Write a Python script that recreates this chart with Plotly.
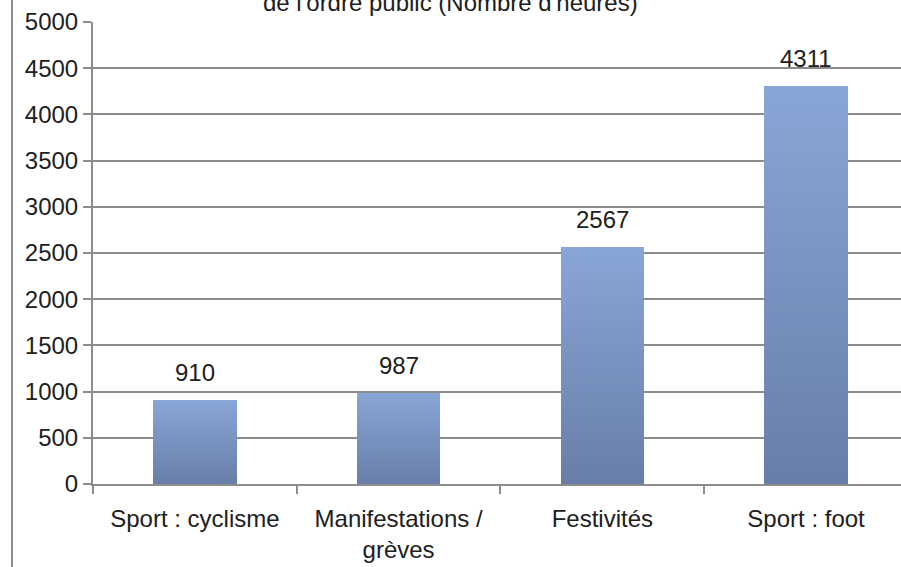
import plotly.graph_objects as go

categories = ["Sport : cyclisme", "Manifestations /<br>grèves", "Festivités", "Sport : foot"]
hours = [910, 987, 2567, 4311]
y_tick_values = list(range(0, 5001, 500))
title_line = "de l'ordre public (Nombre d'heures)"

W, H = 901, 567
ML, MR, MT, MB = 93, 0, 22, 83
FONT = "Liberation Sans, Arial, sans-serif"
TXT = "#202020"

bottom_rgb = (0x68, 0x7E, 0xA8)
top_rgb = (0x88, 0xA6, 0xD6)
N = 60

fig = go.Figure()
for k in range(N):
    t = (k + 0.5) / N
    c = tuple(round(b + (tp - b) * t) for b, tp in zip(bottom_rgb, top_rgb))
    col = "rgb(%d,%d,%d)" % c
    bases = [v * k / N for v in hours]
    tops = [min(v * (k + 1.6) / N, v) for v in hours]
    fig.add_trace(go.Bar(
        x=categories,
        y=[tp - b for tp, b in zip(tops, bases)],
        base=bases,
        width=0.41,
        marker=dict(color=col, line=dict(width=0)),
        showlegend=False,
        hoverinfo="skip",
    ))

for cat, v in zip(categories, hours):
    fig.add_annotation(x=cat, y=v, text=str(v), showarrow=False,
                       yanchor="bottom", yshift=12,
                       font=dict(family=FONT, size=24, color=TXT))

plot_w = W - ML - MR
fig.add_annotation(xref="paper", yref="paper", x=(450 - ML) / plot_w, y=1,
                   xanchor="center", yanchor="bottom", yshift=4,
                   text=title_line, showarrow=False,
                   font=dict(family=FONT, size=24, color=TXT))

fig.add_shape(type="line", xref="paper", yref="paper",
              x0=(12 - ML) / plot_w, x1=(12 - ML) / plot_w, y0=-1, y1=2,
              line=dict(color="#8c8c8c", width=2))

fig.update_layout(
    width=W, height=H,
    margin=dict(l=ML, r=MR, t=MT, b=MB, pad=0, autoexpand=False),
    paper_bgcolor="white", plot_bgcolor="white",
    barmode="overlay", bargap=0,
    font=dict(family=FONT, size=24, color=TXT),
)
fig.update_xaxes(
    type="category", range=[-0.5, 3.466], automargin=False,
    showline=True, linecolor="#8c8c8c", linewidth=2,
    ticks="outside", tickson="boundaries", ticklen=8, tickcolor="#8c8c8c", tickwidth=2,
    ticklabelstandoff=12,
    showgrid=False, tickfont=dict(family=FONT, size=24, color=TXT),
)
fig.update_yaxes(
    range=[0, 5000], tickvals=y_tick_values, automargin=False,
    showline=True, linecolor="#8c8c8c", linewidth=2,
    ticks="outside", ticklen=8, tickcolor="#8c8c8c", tickwidth=2,
    showgrid=True, gridcolor="#8c8c8c", gridwidth=2, zeroline=False,
    tickfont=dict(family=FONT, size=24, color=TXT),
)

fig.write_html("out.html", config={"displayModeBar": False},
               post_script="document.body.style.margin='0px';")
